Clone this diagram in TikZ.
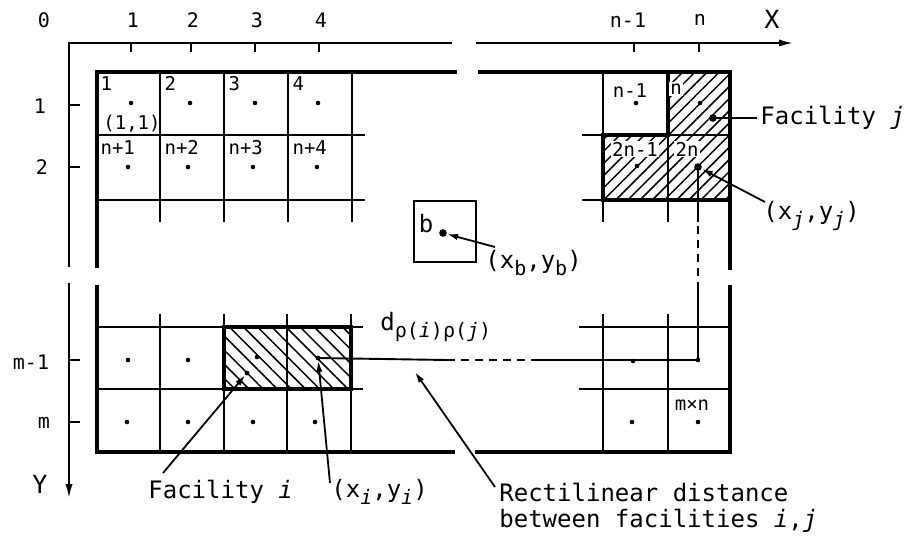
\documentclass[tikz,border=0pt]{standalone}
\usepackage{fontspec}
\setmainfont{DejaVu Sans Mono}
\usetikzlibrary{arrows.meta,patterns.meta}
\newcommand{\sbs}[1]{\raisebox{-0.55ex}{\fontsize{10}{10}\selectfont #1}}
\newcommand{\iv}[1]{\textit{#1}}
\tikzset{
 thickedge/.style={line width=1.6pt},
 thinline/.style={line width=0.95pt},
 axisline/.style={line width=0.95pt},
 lbl/.style={font=\fontsize{12}{15}\selectfont, inner sep=0pt},
 celllbl/.style={font=\fontsize{9.5}{10}\selectfont, inner sep=0.6pt},
 ticklbl/.style={font=\fontsize{10}{12}\selectfont, inner sep=0pt},
 axlbl/.style={font=\fontsize{12.5}{14}\selectfont, inner sep=0pt},
 dotsm/.style={circle,fill,inner sep=0pt,minimum size=2.4pt},
 dotbig/.style={circle,fill,inner sep=0pt,minimum size=3.8pt},
 ptr/.style={line width=0.9pt,-{Latex[length=5.5pt,width=3.2pt]}},
 axtip/.style={-{Latex[length=7pt,width=3.6pt]}},
 hatchne/.style={pattern={Lines[angle=45,distance=4.3pt,line width=0.75pt]}},
 hatchnw/.style={pattern={Lines[angle=-45,distance=5pt,line width=0.75pt]}},
}
\begin{document}
\begin{tikzpicture}[x=0.5pt,y=-0.5pt]
\useasboundingbox (0,0) rectangle (916,536);
% hatching
\fill[hatchne] (668,72) -- (730,72) -- (730,200) -- (603,200) -- (603,135) -- (668,135) -- cycle;
\fill[hatchnw] (224,327) rectangle (351,389);
% axes
\draw[axisline] (452,43) -- (69,43) -- (69,267);
\draw[axisline,axtip] (476,43) -- (793,43);
\draw[axisline,axtip] (69,283) -- (69,498);
\foreach \x in {131,191,255,319,634,699} \draw[axisline] (\x,43) -- (\x,52);
\foreach \y in {105,167,360,422} \draw[axisline] (69,\y) -- (80,\y);
% tick labels
\node[ticklbl] (t0) at (44,20) {0};
\node[ticklbl] (t1) at (133,20) {1};
\node[ticklbl] (t2) at (193,20) {2};
\node[ticklbl] (t3) at (257,20) {3};
\node[ticklbl] (t4) at (321,20) {4};
\node[ticklbl] (tn1) at (628,20) {n-1};
\node[ticklbl] (tn) at (700,20) {n};
\node[axlbl] (tX) at (772,19) {X};
\node[ticklbl] (s1) at (40,106) {1};
\node[ticklbl] (s2) at (42,167) {2};
\node[ticklbl] (sm1) at (31,362) {m-1};
\node[ticklbl] (sm) at (44,423) {m};
\node[axlbl] (sY) at (40,484) {Y};
% inner grid lines
\foreach \x in {160,224,288,352,603,668} \draw[thinline] (\x,72) -- (\x,222);
\foreach \y in {135,200} {\draw[thinline] (97,\y) -- (365,\y); \draw[thinline] (582,\y) -- (730,\y);}
\foreach \x in {160,224,287,351,603,668} \draw[thinline] (\x,314) -- (\x,452);
\foreach \y in {327,389} {\draw[thinline] (97,\y) -- (363,\y); \draw[thinline] (579,\y) -- (730,\y);}
% outer edges
\draw[thickedge] (457,72) -- (97,72) -- (97,268);
\draw[thickedge] (97,285) -- (97,452) -- (455,452);
\draw[thickedge] (478,72) -- (730,72) -- (730,270);
\draw[thickedge] (730,285) -- (730,452) -- (475,452);
% facility outlines
\draw[thickedge] (668,72) -- (730,72) -- (730,200) -- (603,200) -- (603,135) -- (668,135) -- cycle;
\draw[thickedge] (224,327) rectangle (351,389);
% box b
\draw[thinline] (414,201) rectangle (476,262);
% cell labels
\node[celllbl,anchor=north west] (c1) at (99,75) {1};
\node[celllbl] (c11) at (132,124) {(1,1)};
\node[celllbl,anchor=north west] (c2) at (163,75) {2};
\node[celllbl,anchor=north west] (c3) at (227,75) {3};
\node[celllbl,anchor=north west] (c4) at (291,75) {4};
\node[celllbl,anchor=north west] (cn1) at (99,139) {n+1};
\node[celllbl,anchor=north west] (cn2) at (163,139) {n+2};
\node[celllbl,anchor=north west] (cn3) at (227,139) {n+3};
\node[celllbl,anchor=north west] (cn4) at (291,139) {n+4};
\node[celllbl] (cnm1) at (630,91) {n-1};
\node[celllbl,fill=white] (cn) at (676,89) {n};
\node[celllbl,fill=white] (c2nm1) at (635,149) {2n-1};
\node[celllbl,fill=white] (c2n) at (687,149) {2n};
\node[celllbl] (cmn) at (692,405) {m×n};
\node[lbl] (lb) at (426,224) {b};
% dots
\foreach \p in {(131,103),(190,103),(255,103),(318,103),(128,167),(188,167),(253,167),(317,167),
  (636,103),(700,103),(637,166),(128,360),(188,360),(257,357),(633,361),(698,360),
  (127,422),(188,422),(253,422),(315,422),(632,422),(698,422)}
  \fill \p circle (2.3);
\node[dotbig] (xj) at (698,167) {};
\node[dotbig] (fj) at (713,118) {};
\node[dotbig] (xb) at (443,233) {};
\node[dotsm] (xi) at (318,358) {};
\node[dotsm] (fi) at (247,373) {};
\coordinate (corner) at (698,360);
\coordinate (h1) at (447,360);
\coordinate (h2) at (537,360);
\coordinate (v1) at (698,290);
\coordinate (v2) at (698,222);
% rectilinear path
\draw[thinline] (xi.center) -- (h1);
\draw[thinline,dash pattern=on 4pt off 3pt] (h1) -- (h2);
\draw[thinline] (h2) -- (corner) -- (v1);
\draw[thinline,dash pattern=on 4pt off 3pt] (v1) -- (v2);
\draw[thinline] (v2) -- (xj.center);
% annotation labels
\node[lbl,anchor=west] (Lfj) at (760,118) {Facility \iv{j}};
\node[lbl,anchor=west] (Lxj) at (763,216) {(x\sbs{\iv{j}},y\sbs{\iv{j}})};
\node[lbl,anchor=west] (Lxb) at (485,263) {(x\sbs{b},y\sbs{b})};
\node[lbl,anchor=west] (Ld) at (380,327) {d\sbs{ρ(\iv{i})ρ(\iv{j})}};
\node[lbl,anchor=west] (Lfi) at (148,492) {Facility \iv{i}};
\node[lbl,anchor=west] (Lxi) at (331,492) {(x\sbs{\iv{i}},y\sbs{\iv{i}})};
\node[lbl,anchor=north west,align=left,font=\fontsize{12}{13}\selectfont] (Lrd) at (499,483) {Rectilinear distance\\between facilities \iv{i},\iv{j}};
\coordinate (afj) at (757,118);
\coordinate (axj) at (765,202);
\coordinate (axb) at (495,247);
\coordinate (afi) at (163,473);
\coordinate (axi) at (330,483);
\coordinate (ard) at (495,487);
\coordinate (trd) at (415,372);
% pointers
\draw[thinline] (afj) -- (fj.center);
\draw[ptr] (axj) -- (xj);
\draw[ptr] (axb) -- (xb);
\draw[ptr] (afi) -- (fi);
\draw[ptr] (axi) -- (xi);
\draw[ptr] (ard) -- (trd);
\end{tikzpicture}
\end{document}
